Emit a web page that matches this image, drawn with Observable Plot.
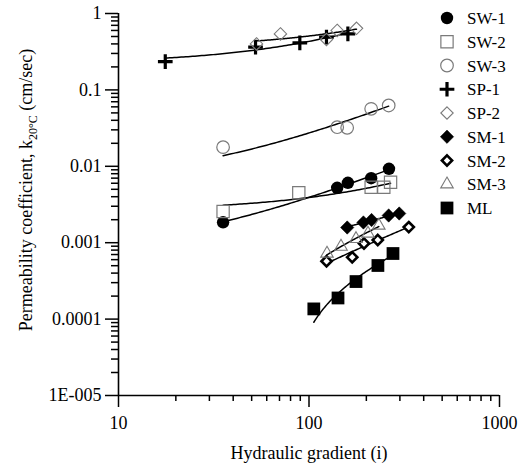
<!DOCTYPE html>
<html><head><meta charset="utf-8">
<script src="https://cdn.jsdelivr.net/npm/d3@7"></script>
<script src="https://cdn.jsdelivr.net/npm/@observablehq/plot@0.6"></script>
<style>body{margin:0;background:#fff}#chart{width:527px;height:469px}</style>
</head><body><div id="chart"></div>
<script>
// ---- data (hydraulic gradient i, permeability k in cm/sec) ----
const seriesNames = ["SW-1","SW-2","SW-3","SP-1","SP-2","SM-1","SM-2","SM-3","ML"];
const sw1_i = [35.4, 140.6, 160, 212, 263];
const sw1_k = [0.00185, 0.00523, 0.00608, 0.00699, 0.00927];
const sw2_i = [35.4, 88.4, 212, 247, 268];
const sw2_k = [0.00256, 0.0045, 0.00533, 0.00533, 0.00619];
const sw3_i = [35.4, 140.6, 158.6, 212, 262];
const sw3_k = [0.0178, 0.0325, 0.0319, 0.0565, 0.0625];
const sp1_i = [17.6, 52.4, 89.5, 123.5, 160];
const sp1_k = [0.235, 0.362, 0.413, 0.49, 0.54];
const sp2_i = [53, 70.8, 123.5, 140.6, 177.6];
const sp2_k = [0.40, 0.54, 0.457, 0.60, 0.64];
const sm1_i = [158.7, 193, 213, 262, 297.6];
const sm1_k = [0.00158, 0.00184, 0.00198, 0.00227, 0.00241];
const sm2_i = [123.6, 168.6, 194.4, 229.6, 334];
const sm2_k = [0.000571, 0.000646, 0.000976, 0.001085, 0.0016];
const sm3_i = [124.3, 147.2, 176.5, 204, 232.5];
const sm3_k = [0.000722, 0.00089, 0.00112, 0.00132, 0.00168];
const ml_i = [106, 142, 176.5, 230, 276];
const ml_k = [0.000136, 0.000189, 0.00031, 0.000503, 0.000722];

const xTickValues = [10, 100, 1000];
const xTickLabels = ["10", "100", "1000"];
const yTickValues = [1e-5, 1e-4, 1e-3, 1e-2, 1e-1, 1];
const yTickLabels = ["1E-005", "0.0001", "0.001", "0.01", "0.1", "1"];
const xTitle = "Hydraulic gradient (i)";
const yTitleMain = "Permeability coefficient, k";
const yTitleSub = "20°C";
const yTitleEnd = " (cm/sec)";

// ---- styles per series ----
const GREY = "#7a7a7a";
const styles = {
  "SW-1": {symbol: "circle",   r: 6.2, fill: "black", stroke: "none", sw: 0, d3s: d3.symbolCircle},
  "SW-2": {symbol: "square2",  r: 7.8, fill: "none",  stroke: GREY,  sw: 1.2, d3s: d3.symbolSquare2},
  "SW-3": {symbol: "circle",   r: 6.3, fill: "none",  stroke: GREY,  sw: 1.2, d3s: d3.symbolCircle},
  "SP-1": {symbol: "plus",     r: 4.8, fill: "none",  stroke: "black", sw: 3.2, d3s: d3.symbolPlus},
  "SP-2": {symbol: "diamond2", r: 5.6, fill: "none",  stroke: GREY,  sw: 1.1, d3s: d3.symbolDiamond2},
  "SM-1": {symbol: "diamond2", r: 6.0, fill: "black", stroke: "black", sw: 0.5, d3s: d3.symbolDiamond2},
  "SM-2": {symbol: "diamond2", r: 4.6, fill: "white", stroke: "black", sw: 2.6, d3s: d3.symbolDiamond2},
  "SM-3": {symbol: "triangle2",r: 6.0, fill: "none",  stroke: GREY,  sw: 1.1, d3s: d3.symbolTriangle2},
  "ML":   {symbol: "square",   r: 7.2, fill: "black", stroke: "none", sw: 0, d3s: d3.symbolSquare}
};

const raw = {
  "SW-1": [sw1_i, sw1_k], "SW-2": [sw2_i, sw2_k], "SW-3": [sw3_i, sw3_k],
  "SP-1": [sp1_i, sp1_k], "SP-2": [sp2_i, sp2_k], "SM-1": [sm1_i, sm1_k],
  "SM-2": [sm2_i, sm2_k], "SM-3": [sm3_i, sm3_k], "ML": [ml_i, ml_k]
};

const rows = [];
for (const s of seriesNames) {
  const [xs, ys] = raw[s];
  xs.forEach((x, j) => rows.push({series: s, i: x, k: ys[j]}));
}

// linear trendlines (k = a + b·i), drawn on the log-log axes
const fitRows = [];
for (const s of seriesNames) {
  const [xs, ys] = raw[s];
  const mx = d3.mean(xs), my = d3.mean(ys);
  const b = d3.sum(xs, (x, j) => (x - mx) * (ys[j] - my)) / d3.sum(xs, x => (x - mx) ** 2);
  const a = my - b * mx;
  const [x0, x1] = d3.extent(xs);
  const n = 80;
  for (let t = 0; t <= n; t++) {
    const x = x0 * Math.pow(x1 / x0, t / n);
    fitRows.push({series: s, i: x, k: a + b * x});
  }
}

const minorX = [];
for (const dec of [10, 100]) for (let m = 2; m <= 9; m++) minorX.push(dec * m);
const minorY = [];
for (const dec of [1e-5, 1e-4, 1e-3, 1e-2, 1e-1]) for (let m = 2; m <= 9; m++) minorY.push(dec * m);

const xLab = new Map(xTickValues.map((v, j) => [v, xTickLabels[j]]));
const yLab = new Map(yTickValues.map((v, j) => [v, yTickLabels[j]]));

const dotMarks = seriesNames.map(s => {
  const st = styles[s];
  return Plot.dot(rows.filter(d => d.series === s), {
    x: "i", y: "k", symbol: st.symbol, r: st.r,
    fill: st.fill, stroke: st.stroke, strokeWidth: st.sw
  });
});

const chart = Plot.plot({
  width: 527, height: 469,
  marginLeft: 118, marginRight: 28, marginTop: 13, marginBottom: 74,
  style: {fontFamily: "'Liberation Serif', 'Times New Roman', serif", fontSize: "18px", color: "black", background: "white"},
  x: {type: "log", domain: [10, 1000]},
  y: {type: "log", domain: [1e-5, 1]},
  marks: [
    Plot.axisX(minorX, {tickSize: 6, tickFormat: () => "", strokeWidth: 1.5, label: null}),
    Plot.axisX(xTickValues, {tickSize: 12, tickPadding: 9, tickFormat: d => xLab.get(d), strokeWidth: 1.5, label: null, fontSize: 18}),
    Plot.axisY(minorY, {tickSize: 7, tickFormat: () => "", strokeWidth: 1.5, label: null}),
    Plot.axisY(yTickValues, {tickSize: 13, tickPadding: 4, tickFormat: d => yLab.get(d), strokeWidth: 1.5, label: null, fontSize: 18}),
    Plot.ruleX([10], {stroke: "black", strokeWidth: 1.6}),
    Plot.ruleY([1e-5], {stroke: "black", strokeWidth: 1.6}),
    Plot.line(fitRows, {x: "i", y: "k", z: "series", stroke: "black", strokeWidth: 1.5}),
    ...dotMarks
  ]
});

document.getElementById("chart").appendChild(chart);

const svg = d3.select(chart);
// x title
svg.append("text")
  .attr("x", 309).attr("y", 459)
  .attr("text-anchor", "middle")
  .attr("font-size", 18)
  .attr("fill", "black")
  .text(xTitle);
// y title with subscript
const yt = svg.append("text")
  .attr("transform", "translate(32,190) rotate(-90)")
  .attr("text-anchor", "middle")
  .attr("font-size", 18)
  .attr("fill", "black");
yt.append("tspan").text(yTitleMain);
yt.append("tspan").attr("font-size", 12).attr("dy", 5).text(yTitleSub);
yt.append("tspan").attr("dy", -5).text(yTitleEnd);

// legend
const lg = svg.append("g").attr("transform", "translate(447,18)");
seriesNames.forEach((s, j) => {
  const st = styles[s];
  const g = lg.append("g").attr("transform", `translate(0,${j * 23.75})`);
  g.append("path")
    .attr("d", d3.symbol(st.d3s, Math.PI * st.r * st.r)())
    .attr("fill", st.fill)
    .attr("stroke", st.stroke)
    .attr("stroke-width", st.sw);
  g.append("text")
    .attr("x", 20).attr("y", 6)
    .attr("text-anchor", "start")
    .attr("font-size", 17)
    .attr("fill", "black")
    .text(s);
});
</script>
</body></html>
